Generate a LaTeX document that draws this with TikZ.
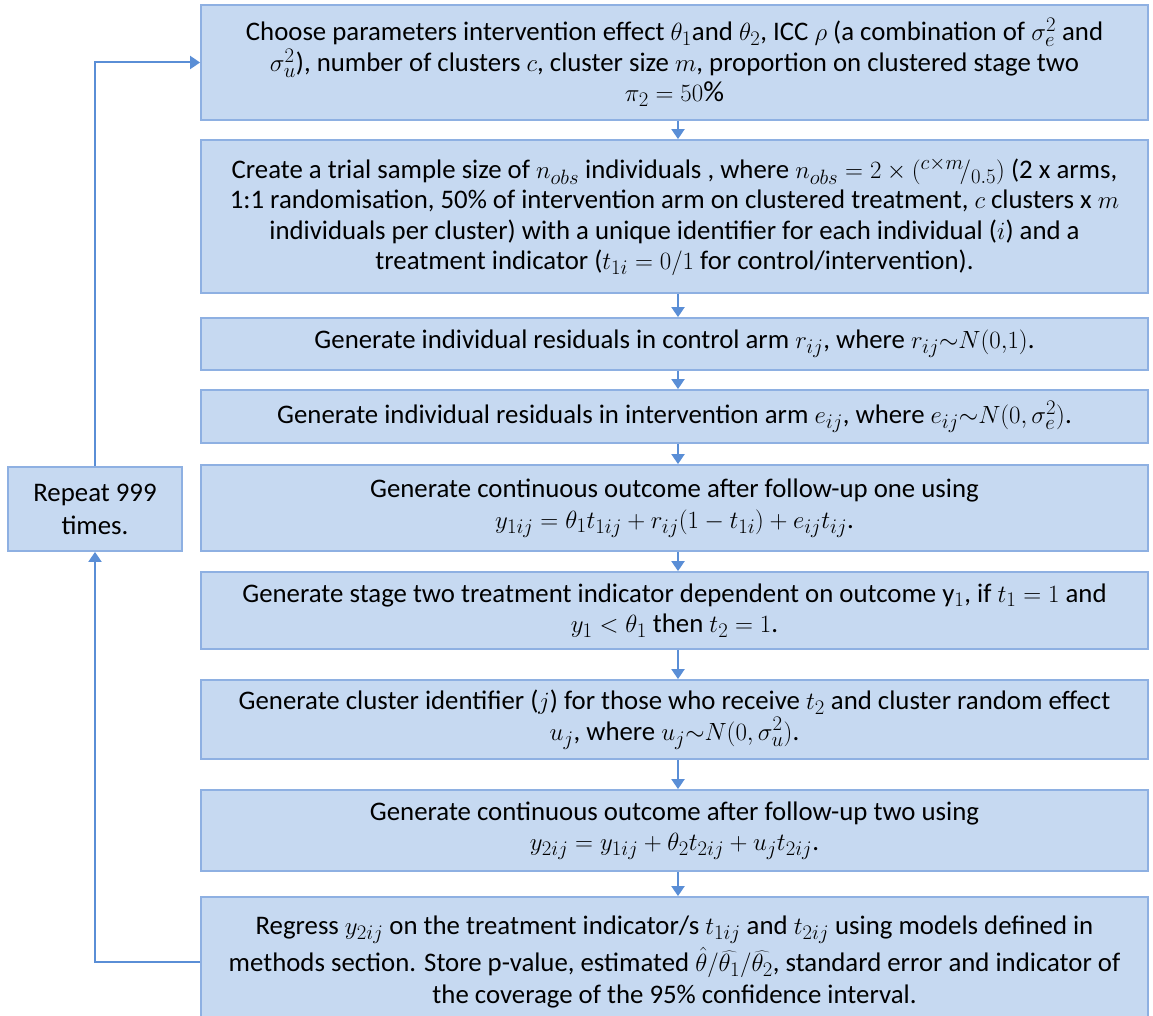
\documentclass[tikz,border=0pt]{standalone}
\usepackage{fontspec}
\setmainfont{Carlito}
\usetikzlibrary{arrows.meta}
% slightly larger formulas next to the text face
\DeclareMathSizes{26.8}{29}{20.5}{15.5}
\definecolor{boxfill}{HTML}{C6D9F1}
\definecolor{boxline}{HTML}{8EB0E2}
\definecolor{flowline}{HTML}{5A8ED6}
\begin{document}
\begin{tikzpicture}[x=1pt,y=-1pt,
  stepbox/.style={draw=boxline,fill=boxfill,line width=1.8pt,
    minimum width=947pt,inner sep=0pt,align=center,
    font=\fontsize{26.8}{30.5}\selectfont},
  flow/.style={draw=flowline,line width=2pt,
    -{Triangle[width=13pt,length=10pt]}}]
\useasboundingbox (0,0) rectangle (1153,1016);
\clip (0,0) rectangle (1153,1016);

% main column of steps
\node[stepbox,minimum height=115pt] (b1) at (674.5,62.5)
 {Choose parameters intervention effect $\theta_1$and $\theta_2$, ICC $\rho$ (a combination of $\sigma_e^2$ and\\
  $\sigma_u^2$), number of clusters $c$, cluster size $m$, proportion on clustered stage two\\
  $\pi_2=50\%$};
\node[stepbox,minimum height=153pt] (b2) at (674.5,216.5)
 {Create a trial sample size of $n_{obs}$ individuals , where $n_{obs}=2\times\bigl({}^{c\times m}\!/_{0.5}\bigr)$ (2 x arms,\\
  1:1 randomisation, 50\% of intervention arm on clustered treatment, $c$ clusters x $m$\\
  individuals per cluster) with a unique identifier for each individual ($i$) and a\\
  treatment indicator ($t_{1i}=0/1$ for control/intervention).};
\node[stepbox,minimum height=52pt] (b3) at (674.5,344)
 {Generate individual residuals in control arm $r_{ij}$, where $r_{ij}{\sim}N(0{,}1)$.};
\node[stepbox,minimum height=53pt] (b4) at (674.5,416.5)
 {Generate individual residuals in intervention arm $e_{ij}$, where $e_{ij}{\sim}N(0,\sigma_e^2)$.};
\node[stepbox,minimum height=86pt] (b5) at (674.5,508)
 {Generate continuous outcome after follow-up one using\\
  $y_{1ij}=\theta_1t_{1ij}+r_{ij}(1-t_{1i})+e_{ij}t_{ij}$.};
\node[stepbox,minimum height=77pt] (b6) at (674.5,610.5)
 {Generate stage two treatment indicator dependent on outcome y$_1$, if $t_1=1$ and\\
  $y_1<\theta_1$ then $t_2=1$.};
\node[stepbox,minimum height=79pt] (b7) at (674.5,719.5)
 {Generate cluster identifier ($j$) for those who receive $t_2$ and cluster random effect\\
  $u_j$, where $u_j{\sim}N(0,\sigma_u^2)$.};
\node[stepbox,minimum height=81pt] (b8) at (674.5,830.5)
 {Generate continuous outcome after follow-up two using\\
  $y_{2ij}=y_{1ij}+\theta_2t_{2ij}+u_jt_{2ij}$.};
\node[stepbox,minimum height=130pt] (b9) at (674.5,962)
 {Regress $y_{2ij}$ on the treatment indicator/s $t_{1ij}$ and $t_{2ij}$ using models defined in\\[3pt]
  methods section. Store p-value, estimated $\hat\theta/\widehat{\theta_1}/\widehat{\theta_2}$, standard error and indicator of\\[2pt]
  the coverage of the 95\% confidence interval.};

% loop box
\node[stepbox,minimum width=174pt,minimum height=84pt,
  font=\fontsize{26.8}{33}\selectfont] (rep) at (95,509)
 {Repeat 999\\ times.};

% connectors between steps
\coordinate (ax) at (678,0);
\foreach \a/\b in {b1/b2,b2/b3,b3/b4,b4/b5,b5/b6,b6/b7,b7/b8,b8/b9}
  \draw[flow] (\a.south -| ax) -- (\b.north -| ax);

% repeat loop
\draw[flow] (rep.north) |- (b1.west);
\draw[flow] (b9.west) -| (rep.south);
\end{tikzpicture}
\end{document}
